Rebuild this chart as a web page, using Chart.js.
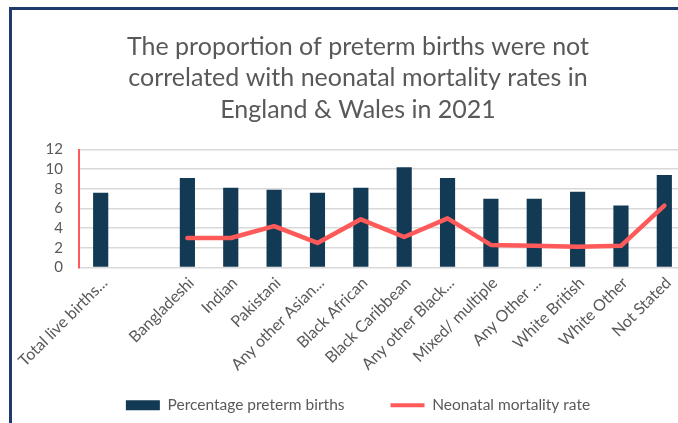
<!DOCTYPE html>
<html>
<head>
<meta charset="utf-8">
<script src="https://cdn.jsdelivr.net/npm/chart.js@4/dist/chart.umd.min.js"></script>
<style>
  html, body { margin: 0; padding: 0; background: #ffffff; overflow: hidden; width: 678px; height: 423px; }
  #frame { position: absolute; left: 9px; top: 7px; border: 3px solid #1F3B6E; width: 692px; height: 440px; background: #fff; }
  #c { display: block; }
</style>
</head>
<body>
<div id="frame"><canvas id="c" width="692" height="413" style="width:692px;height:413px"></canvas></div>
<script>
const titleLines = ['The proportion of preterm births were not', 'correlated with neonatal mortality rates in', 'England & Wales in 2021'];
const categories = ['Total live births...', '', 'Bangladeshi', 'Indian', 'Pakistani', 'Any other Asian...', 'Black African', 'Black Caribbean', 'Any other Black...', 'Mixed/ multiple', 'Any Other ...', 'White British', 'White Other', 'Not Stated'];
const pretermPct = [7.6, null, 9.1, 8.1, 7.9, 7.6, 8.1, 10.2, 9.1, 7.0, 7.0, 7.7, 6.3, 9.4];
const neonatalRate = [null, null, 3.0, 3.0, 4.2, 2.5, 4.9, 3.1, 5.0, 2.3, 2.2, 2.1, 2.2, 6.3];
const yTicks = [0, 2, 4, 6, 8, 10, 12];

const BAR = '#133A55';
const RED = '#FF5A5A';
const GREY = '#595959';

Chart.defaults.font.family = 'Lato, "Open Sans", sans-serif';
Chart.defaults.color = GREY;

new Chart(document.getElementById('c'), {
  type: 'bar',
  data: {
    labels: categories,
    datasets: [
      {
        type: 'bar',
        label: 'Percentage preterm births',
        data: pretermPct,
        backgroundColor: BAR,
        borderColor: BAR,
        borderWidth: 0,
        categoryPercentage: 1,
        barPercentage: 0.35,
        order: 1
      },
      {
        type: 'line',
        label: 'Neonatal mortality rate',
        data: neonatalRate,
        borderColor: RED,
        backgroundColor: RED,
        borderWidth: 4.5,
        pointRadius: 0,
        tension: 0,
        borderCapStyle: 'round',
        borderJoinStyle: 'round',
        order: 0
      }
    ]
  },
  options: {
    responsive: false,
    animation: false,
    layout: { padding: 0 },
    plugins: {
      tooltip: { enabled: false },
      title: {
        display: true,
        text: titleLines,
        color: GREY,
        font: { size: 25, weight: 'normal', lineHeight: 1.26 },
        padding: { top: 21, bottom: 24 }
      },
      legend: {
        position: 'bottom',
        labels: {
          font: { size: 15.5 },
          color: GREY,
          padding: 46,
          usePointStyle: true,
          pointStyleWidth: 34,
          boxHeight: 10,
          sort: (a, b) => a.datasetIndex - b.datasetIndex,
          generateLabels: (chart) => {
            const items = Chart.defaults.plugins.legend.labels.generateLabels(chart);
            items.forEach(it => {
              if (it.datasetIndex === 1) {
                it.pointStyle = 'line';
                it.lineWidth = 4;
                it.strokeStyle = RED;
              } else {
                it.pointStyle = 'rect';
                it.lineWidth = 0;
                it.fillStyle = BAR;
                it.strokeStyle = BAR;
              }
            });
            return items;
          }
        }
      }
    },
    scales: {
      x: {
        grid: { display: false, drawTicks: false },
        border: { display: false },
        ticks: {
          color: GREY,
          font: { size: 16 },
          minRotation: 45,
          maxRotation: 45,
          autoSkip: false,
          padding: 6,
          labelOffset: 4
        },
        afterFit: (s) => {
          s.height = 84;
          s.paddingLeft = 0;
          s.paddingRight = 0;
          s._computeLabelArea = () => undefined;
        }
      },
      y: {
        min: 0,
        max: 12,
        afterBuildTicks: (s) => { s.ticks = yTicks.map(v => ({ value: v })); },
        grid: { color: '#D9D9D9', lineWidth: 1.5, drawTicks: false },
        border: { display: true, color: RED, width: 2 },
        ticks: { color: GREY, font: { size: 15 }, padding: 16, autoSkip: false },
        afterFit: (s) => { s.width = 67; }
      },
      yRight: {
        position: 'right',
        display: true,
        min: 0,
        max: 12,
        grid: { display: false, drawTicks: false },
        border: { display: false },
        ticks: { display: false },
        afterFit: (s) => { s.width = 18; }
      }
    }
  }
});
</script>
</body>
</html>
